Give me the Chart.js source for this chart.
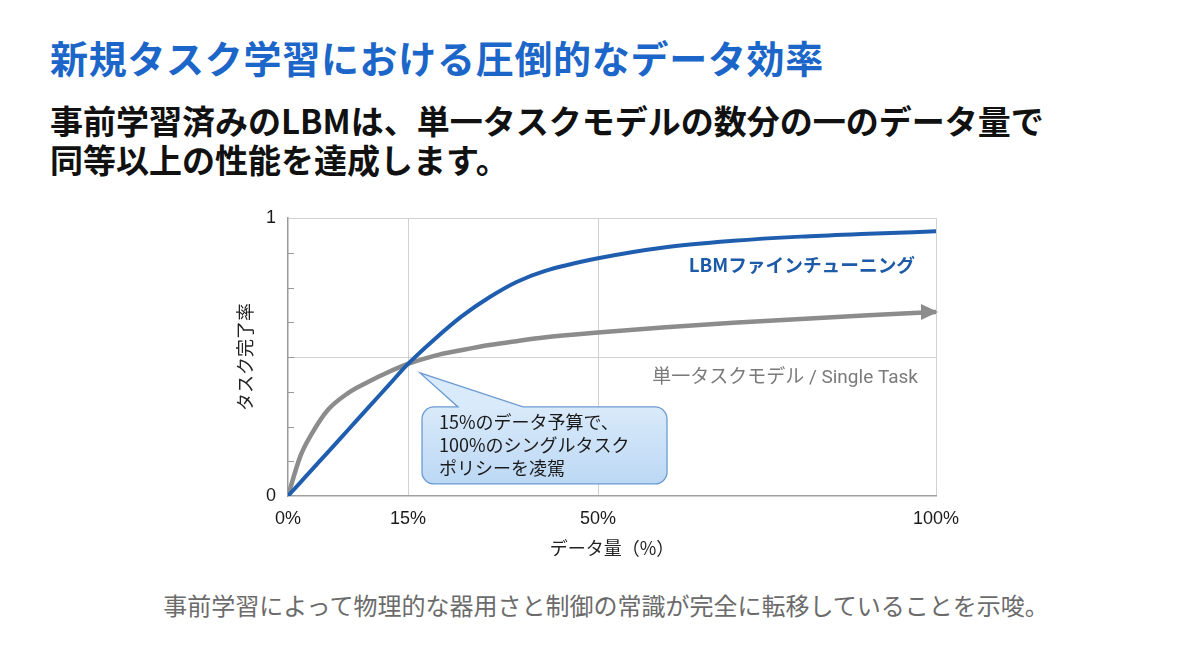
<!DOCTYPE html>
<html lang="ja">
<head>
<meta charset="utf-8">
<script src="https://cdn.jsdelivr.net/npm/chart.js@4.4.0/dist/chart.umd.min.js"></script>
<style>
  html, body { margin: 0; padding: 0; background: #fff; }
  body { width: 1200px; height: 670px; position: relative; overflow: hidden;
         font-family: "Noto Sans CJK JP", "Noto Sans", sans-serif; }
  #chart { position: absolute; left: 0; top: 0; }
  .title { position: absolute; left: 50px; top: 34px; font-size: 38px; font-weight: 700;
           color: #1b66c8; line-height: 46px; white-space: nowrap; letter-spacing: 0.7px; }
  .sub { position: absolute; left: 50px; top: 101px; font-size: 33px; font-weight: 700;
         color: #111; line-height: 39px; white-space: nowrap; }
  .caption { position: absolute; left: 0; width: 1212px; top: 590px; text-align: center;
             font-size: 24px; color: #6b6b6b; line-height: 30px; }
</style>
</head>
<body>
<div class="title">新規タスク学習における圧倒的なデータ効率</div>
<div class="sub">事前学習済みのLBMは、単一タスクモデルの数分の一のデータ量で<br>同等以上の性能を達成します。</div>
<div class="caption">事前学習によって物理的な器用さと制御の常識が完全に転移していることを示唆。</div>
<canvas id="chart" width="1200" height="670"></canvas>
<script>
// data amount (%) and task completion rate
var dataPct = [0, 1.5, 3, 5, 7.5, 10, 12.5, 15, 20, 25, 30, 35, 40, 50, 60, 70, 80, 90, 100];
var lbmRate = [0, 0.0475, 0.095, 0.158, 0.2375, 0.317, 0.396, 0.475, 0.566, 0.648, 0.715, 0.77, 0.808, 0.855, 0.895, 0.918, 0.933, 0.943, 0.952];
var singleRate = [0, 0.14, 0.225, 0.31, 0.37, 0.41, 0.445, 0.475, 0.505, 0.525, 0.543, 0.557, 0.57, 0.588, 0.607, 0.623, 0.637, 0.65, 0.662];

// the x axis is drawn schematically: tick percent -> position along axis
var xTickPct = [0, 15, 50, 100];
var xTickPos = [0, 18.52, 47.84, 100];
var xTickLabels = ["0%", "15%", "50%", "100%"];
var yTickLabels = {0: "0", 1: "1"};

var lbmLabel = "LBMファインチューニング";
var singleLabel = "単一タスクモデル / Single Task";
var calloutLines = ["15%のデータ予算で、", "100%のシングルタスク", "ポリシーを凌駕"];
var calloutAt = {x: 15, y: 0.475};

function toAxis(p) {
    for (var i = 1; i < xTickPct.length; i++) {
        if (p <= xTickPct[i]) {
            var t = (p - xTickPct[i - 1]) / (xTickPct[i] - xTickPct[i - 1]);
            return xTickPos[i - 1] + t * (xTickPos[i] - xTickPos[i - 1]);
        }
    }
    return xTickPos[xTickPos.length - 1];
}

function points(vals) {
    return dataPct.map(function (p, i) { return {x: toAxis(p), y: vals[i]}; });
}

var CJK = '"Noto Sans CJK JP", sans-serif';
var LATIN = 'Roboto, "Noto Sans CJK JP", sans-serif';
var TICK = '"Liberation Sans", Arial, sans-serif';

var extras = {
    id: "extras",
    afterDatasetsDraw: function (chart) {
        var c = chart.ctx, xs = chart.scales.x, ys = chart.scales.y, a = chart.chartArea;
        c.save();

        // small inner ticks on the y axis
        c.strokeStyle = "#9a9a9a";
        c.lineWidth = 1;
        for (var k = 1; k < 8; k++) {
            var ty = Math.round(ys.getPixelForValue(k / 8)) + 0.5;
            c.beginPath(); c.moveTo(a.left, ty); c.lineTo(a.left + 6, ty); c.stroke();
        }

        // arrow head at the end of the single task line
        var meta = chart.getDatasetMeta(1);
        var last = meta.data[meta.data.length - 1];
        c.fillStyle = "#8c8c8c";
        c.beginPath();
        c.moveTo(last.x + 2, last.y);
        c.lineTo(last.x - 15, last.y - 8);
        c.lineTo(last.x - 15, last.y + 8);
        c.closePath(); c.fill();

        // series labels
        c.textAlign = "right"; c.textBaseline = "middle";
        c.font = "bold 18.7px " + CJK;
        c.fillStyle = "#1d5aa8";
        c.fillText(lbmLabel, a.right - 21, 265);
        c.font = "19px " + LATIN;
        c.fillStyle = "#7a7a7a";
        c.fillText(singleLabel, a.right - 18, 378);

        // callout bubble
        var ax = xs.getPixelForValue(toAxis(calloutAt.x));
        var ay = ys.getPixelForValue(calloutAt.y);
        var bx = ax + 14, by = ay + 43, bw = 245, bh = 77, r = 12;
        var g = c.createLinearGradient(0, by, 0, by + bh);
        g.addColorStop(0, "#d9eafa");
        g.addColorStop(1, "#bcd8f4");
        c.beginPath();
        c.moveTo(bx + r, by);
        c.lineTo(ax + 50, by);
        c.lineTo(ax + 12, ay + 9);
        c.lineTo(ax + 115, by);
        c.lineTo(bx + bw - r, by);
        c.arcTo(bx + bw, by, bx + bw, by + r, r);
        c.lineTo(bx + bw, by + bh - r);
        c.arcTo(bx + bw, by + bh, bx + bw - r, by + bh, r);
        c.lineTo(bx + r, by + bh);
        c.arcTo(bx, by + bh, bx, by + bh - r, r);
        c.lineTo(bx, by + r);
        c.arcTo(bx, by, bx + r, by, r);
        c.closePath();
        c.fillStyle = g; c.fill();
        c.strokeStyle = "#6b9bd2"; c.lineWidth = 1.3; c.stroke();

        c.textAlign = "left"; c.fillStyle = "#1a1a1a";
        c.font = "18px " + CJK;
        calloutLines.forEach(function (t, i) { c.fillText(t, bx + 17, by + 15 + i * 23); });
        c.restore();
    }
};

new Chart(document.getElementById("chart").getContext("2d"), {
    type: "line",
    data: {
        datasets: [
            {
                label: lbmLabel,
                data: points(lbmRate),
                borderColor: "#1f5eae",
                borderWidth: 4,
                cubicInterpolationMode: "monotone",
                pointRadius: 0,
                fill: false
            },
            {
                label: singleLabel,
                data: points(singleRate),
                borderColor: "#8c8c8c",
                borderWidth: 4.5,
                cubicInterpolationMode: "monotone",
                pointRadius: 0,
                fill: false
            }
        ]
    },
    options: {
        responsive: false,
        animation: false,
        layout: { padding: { left: 232, top: 218, right: 264, bottom: 104 } },
        plugins: { legend: { display: false }, tooltip: { enabled: false } },
        scales: {
            x: {
                type: "linear", min: 0, max: 100,
                afterBuildTicks: function (s) { s.ticks = xTickPos.map(function (v) { return {value: v}; }); },
                afterFit: function (s) { s.height = 70; },
                ticks: {
                    padding: 12, color: "#1a1a1a", font: { family: TICK, size: 18 },
                    callback: function (v, i) { return xTickLabels[i]; }
                },
                grid: {
                    drawTicks: false, lineWidth: 1,
                    color: function (ctx) { return ctx.index === 0 ? "rgba(0,0,0,0)" : "#d0d0d0"; }
                },
                border: { color: "#a0a0a0", width: 1.5 },
                title: { display: true, text: "データ量（%）", color: "#222",
                         font: { family: CJK, size: 18 }, padding: { bottom: 7 } }
            },
            y: {
                min: 0, max: 1,
                afterFit: function (s) { s.width = 56; },
                ticks: {
                    stepSize: 0.125, padding: 12, color: "#1a1a1a", font: { family: TICK, size: 18 },
                    callback: function (v) { return yTickLabels[v] !== undefined ? yTickLabels[v] : ""; }
                },
                grid: {
                    drawTicks: false, lineWidth: 1,
                    color: function (ctx) {
                        var v = ctx.tick.value;
                        return (v === 0.5 || v === 1) ? "#d0d0d0" : "rgba(0,0,0,0)";
                    }
                },
                border: { color: "#9a9a9a", width: 1.5 },
                title: { display: true, text: "タスク完了率", color: "#222",
                         font: { family: CJK, size: 18 }, padding: { top: 2 } }
            }
        }
    },
    plugins: [extras]
});
</script>
</body>
</html>
